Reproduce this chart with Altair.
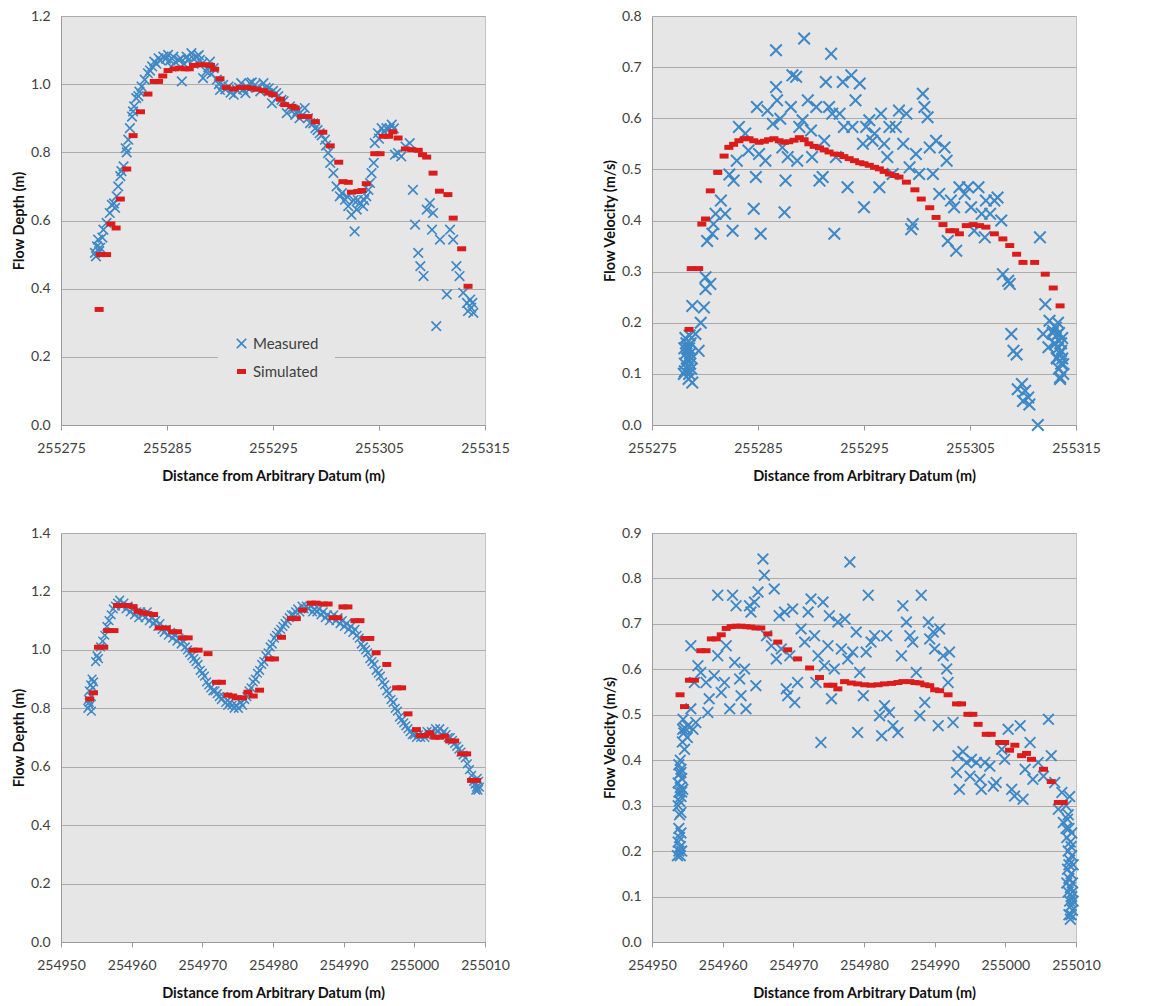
import altair as alt
import pandas as pd

# ---------------------------------------------------------------- data
BASE_TOP = 255200      # top panels: distances stored as offsets from this datum
BASE_BOTTOM = 254900   # bottom panels: distances stored as offsets from this datum
SERIES = ["Measured", "Simulated"]

top_x_ticks = [255275, 255285, 255295, 255305, 255315]
bottom_x_ticks = [254950, 254960, 254970, 254980, 254990, 255000, 255010]
top_depth_ticks = [0.0, 0.2, 0.4, 0.6, 0.8, 1.0, 1.2]
top_velocity_ticks = [0.0, 0.1, 0.2, 0.3, 0.4, 0.5, 0.6, 0.7, 0.8]
bottom_depth_ticks = [0.0, 0.2, 0.4, 0.6, 0.8, 1.0, 1.2, 1.4]
bottom_velocity_ticks = [0.0, 0.1, 0.2, 0.3, 0.4, 0.5, 0.6, 0.7, 0.8, 0.9]

top_depth_measured = [
    (78.2, 0.505), (78.3, 0.495), (78.4, 0.524), (78.5, 0.544), (78.6, 0.51), (78.7, 0.52),
    (78.9, 0.55), (79.0, 0.573), (79.3, 0.593), (79.6, 0.622), (79.8, 0.646), (80.0, 0.65),
    (80.1, 0.637), (80.25, 0.671), (80.4, 0.70), (80.6, 0.73), (80.7, 0.745), (80.9, 0.759),
    (81.1, 0.812), (81.2, 0.80), (81.35, 0.837), (81.5, 0.871), (81.7, 0.905), (81.8, 0.92),
    (81.9, 0.935), (82.1, 0.959), (82.3, 0.965), (82.4, 0.978), (82.6, 0.993), (82.9, 1.013),
    (83.2, 1.032), (83.4, 1.04), (83.6, 1.052), (83.8, 1.066), (84.0, 1.06), (84.2, 1.076),
    (84.4, 1.07), (84.65, 1.081), (84.9, 1.075), (85.1, 1.086), (85.3, 1.07), (85.4, 1.052),
    (85.6, 1.081), (85.8, 1.065), (86.1, 1.071), (86.3, 1.075), (86.4, 1.008), (86.6, 1.06),
    (86.85, 1.081), (87.0, 1.07), (87.3, 1.091), (87.5, 1.075), (87.8, 1.081), (88.0, 1.085),
    (88.1, 1.071), (88.3, 1.06), (88.4, 1.018), (88.7, 1.037), (88.9, 1.05), (89.05, 1.066),
    (89.2, 1.03), (89.4, 1.047), (89.7, 1.013), (89.9, 1.0), (90.0, 0.983), (90.3, 0.998),
    (90.5, 0.985), (90.8, 0.993), (91.0, 0.975), (91.3, 0.969), (91.6, 0.983), (91.8, 0.99),
    (92.0, 1.003), (92.2, 0.985), (92.4, 0.974), (92.6, 0.99), (92.8, 1.003), (93.0, 1.005),
    (93.3, 0.998), (93.5, 0.99), (93.8, 0.979), (94.1, 1.003), (94.3, 0.99), (94.6, 0.988),
    (94.9, 0.944), (95.0, 0.98), (95.3, 0.974), (95.5, 0.965), (95.8, 0.954), (96.0, 0.95),
    (96.3, 0.915), (96.6, 0.935), (96.9, 0.925), (97.1, 0.910), (97.3, 0.92), (97.5, 0.90),
    (97.8, 0.91), (98.0, 0.93), (98.3, 0.90), (98.5, 0.886), (98.8, 0.885), (99.0, 0.871),
    (99.2, 0.865), (99.4, 0.856), (99.6, 0.85), (99.9, 0.837), (100.0, 0.82), (100.2, 0.798),
    (100.4, 0.769), (100.7, 0.739), (101.0, 0.70), (101.3, 0.671), (101.5, 0.68), (101.8, 0.661),
    (102.0, 0.67), (102.1, 0.642), (102.4, 0.617), (102.6, 0.66), (102.7, 0.568), (102.9, 0.632),
    (103.0, 0.66), (103.2, 0.651), (103.5, 0.642), (103.6, 0.66), (103.8, 0.671), (104.0, 0.69),
    (104.15, 0.71), (104.3, 0.739), (104.5, 0.769), (104.6, 0.827), (104.9, 0.856), (105.0, 0.84),
    (105.25, 0.871), (105.5, 0.86), (105.7, 0.871), (106.0, 0.87), (106.2, 0.881), (106.4, 0.87),
    (106.5, 0.793), (106.8, 0.798), (107.1, 0.788), (107.5, 0.817), (107.9, 0.827), (108.2, 0.69),
    (108.4, 0.588), (108.7, 0.505), (108.9, 0.466), (109.2, 0.437), (109.5, 0.632), (109.8, 0.651),
    (110.0, 0.573), (110.1, 0.622), (110.4, 0.29), (110.75, 0.544), (111.4, 0.383), (111.7, 0.573),
    (112.0, 0.544), (112.3, 0.466), (112.6, 0.437), (112.95, 0.388), (113.3, 0.358), (113.4, 0.334),
    (113.6, 0.368), (113.7, 0.344), (113.8, 0.358), (113.9, 0.329),
]
top_depth_simulated = [
    (78.6, 0.339), (78.7, 0.50), (79.3, 0.50), (79.7, 0.59), (80.2, 0.578), (80.6, 0.663),
    (81.2, 0.751), (81.8, 0.849), (82.5, 0.919), (83.2, 0.971), (83.8, 1.008), (84.2, 1.008),
    (84.6, 1.024), (85.1, 1.040), (85.75, 1.045), (86.2, 1.047), (86.7, 1.045), (87.1, 1.045),
    (87.5, 1.055), (88.1, 1.057), (88.6, 1.057), (89.1, 1.055), (89.5, 1.044), (90.0, 1.016),
    (90.6, 0.99), (91.3, 0.986), (91.9, 0.99), (92.5, 0.99), (93.0, 0.988), (93.5, 0.985),
    (94.1, 0.981), (94.6, 0.974), (95.0, 0.969), (95.7, 0.956), (96.1, 0.94), (96.8, 0.935),
    (97.1, 0.93), (97.7, 0.905), (98.3, 0.905), (99.0, 0.89), (99.7, 0.859), (100.4, 0.819),
    (101.2, 0.771), (101.6, 0.714), (102.1, 0.712), (102.4, 0.683), (103.0, 0.685), (103.4, 0.688),
    (103.8, 0.708), (104.6, 0.796), (105.1, 0.796), (105.4, 0.847), (105.9, 0.847), (106.3, 0.86),
    (106.8, 0.842), (107.5, 0.81), (108.1, 0.808), (108.7, 0.806), (109.1, 0.793), (109.5, 0.786),
    (110.1, 0.739), (110.7, 0.686), (111.5, 0.676), (112.0, 0.607), (112.8, 0.517), (113.4, 0.407),
]

top_velocity_measured = [
    (78.0, 0.10), (78.05, 0.15), (78.1, 0.12), (78.15, 0.17), (78.2, 0.14), (78.25, 0.16),
    (78.3, 0.11), (78.35, 0.15), (78.4, 0.13), (78.45, 0.09), (78.5, 0.15), (78.5, 0.10),
    (78.55, 0.175), (78.6, 0.12), (78.6, 0.14), (78.65, 0.16), (78.7, 0.11), (78.75, 0.13),
    (78.8, 0.083), (78.8, 0.233), (78.3, 0.13), (78.1, 0.105),
    (79.1, 0.178), (79.4, 0.145), (79.6, 0.20), (79.9, 0.23), (80.05, 0.266), (80.05, 0.289),
    (80.5, 0.276), (80.2, 0.36), (80.7, 0.374), (81.0, 0.413), (80.8, 0.393), (81.5, 0.439),
    (81.9, 0.413), (82.6, 0.38), (82.3, 0.49), (82.7, 0.478), (83.0, 0.517), (83.2, 0.583),
    (83.8, 0.57), (84.1, 0.537), (84.6, 0.423), (84.8, 0.485), (84.9, 0.622), (85.1, 0.53),
    (85.25, 0.374), (85.7, 0.517), (85.9, 0.615), (86.4, 0.589), (86.7, 0.733), (86.7, 0.661),
    (86.8, 0.635), (87.1, 0.599), (87.3, 0.543), (87.5, 0.416), (87.6, 0.478), (87.8, 0.524),
    (88.1, 0.622), (88.25, 0.684), (88.6, 0.681), (88.7, 0.517), (88.9, 0.583), (89.2, 0.596),
    (89.35, 0.756), (89.7, 0.635), (90.0, 0.576), (90.1, 0.524), (90.5, 0.622), (90.8, 0.478),
    (91.1, 0.485), (91.25, 0.556), (91.4, 0.671), (91.7, 0.622), (91.9, 0.726), (92.0, 0.609),
    (92.2, 0.374), (92.35, 0.524), (92.7, 0.609), (93.0, 0.671), (93.1, 0.583), (93.45, 0.465),
    (93.8, 0.684), (93.9, 0.583), (94.2, 0.635), (94.6, 0.668), (94.9, 0.55), (95.0, 0.426),
    (95.2, 0.583), (95.5, 0.596), (95.8, 0.556), (96.0, 0.57), (96.45, 0.465), (96.6, 0.609),
    (96.9, 0.55), (97.2, 0.524), (97.4, 0.583), (97.7, 0.491), (98.0, 0.583), (98.3, 0.615),
    (98.7, 0.55), (99.0, 0.609), (99.3, 0.504), (99.45, 0.383), (99.6, 0.393), (99.9, 0.53),
    (100.2, 0.491), (100.55, 0.648), (100.7, 0.622), (101.0, 0.602), (101.2, 0.543), (101.5, 0.491),
    (101.8, 0.556), (102.1, 0.452), (102.6, 0.543), (102.8, 0.517), (102.9, 0.36), (103.2, 0.439),
    (103.5, 0.426), (103.7, 0.341), (104.0, 0.465), (104.5, 0.452), (104.8, 0.465), (105.1, 0.426),
    (105.4, 0.38), (105.8, 0.465), (106.1, 0.413), (106.4, 0.367), (106.5, 0.439), (106.9, 0.413),
    (107.3, 0.439), (107.6, 0.445), (107.95, 0.40), (108.1, 0.295), (108.6, 0.282), (108.75, 0.276),
    (108.9, 0.178), (109.1, 0.145), (109.4, 0.138), (109.5, 0.07), (109.9, 0.08), (110.0, 0.047),
    (110.2, 0.067), (110.5, 0.054), (110.6, 0.04), (111.4, 0.0), (111.6, 0.367), (111.9, 0.178),
    (112.1, 0.236), (112.4, 0.152), (112.5, 0.204), (112.85, 0.184), (113.0, 0.158), (113.2, 0.132),
    (113.3, 0.178), (113.5, 0.093), (113.6, 0.145), (113.8, 0.119),
    (112.8, 0.18), (113.0, 0.16), (113.1, 0.19), (113.2, 0.13), (113.3, 0.15), (113.4, 0.11),
    (113.5, 0.14), (113.6, 0.12), (113.7, 0.17), (113.8, 0.10), (113.5, 0.09), (113.3, 0.20),
    (113.6, 0.16), (113.4, 0.18), (113.7, 0.13),
]
top_velocity_simulated = [
    (78.5, 0.187), (78.7, 0.306), (79.4, 0.306), (79.7, 0.393), (80.05, 0.403), (80.5, 0.458),
    (81.2, 0.494), (81.8, 0.526), (82.25, 0.543), (82.7, 0.549), (83.2, 0.556), (83.7, 0.56),
    (84.15, 0.56), (84.6, 0.556), (85.1, 0.553), (85.6, 0.555), (86.0, 0.558), (86.5, 0.56),
    (87.0, 0.556), (87.5, 0.553), (87.9, 0.554), (88.4, 0.557), (88.9, 0.562), (89.35, 0.558),
    (89.8, 0.55), (90.3, 0.545), (90.8, 0.542), (91.25, 0.538), (91.7, 0.534), (92.2, 0.53),
    (92.7, 0.529), (93.1, 0.525), (93.6, 0.521), (94.1, 0.517), (94.6, 0.513), (95.0, 0.511),
    (95.5, 0.508), (96.0, 0.504), (96.45, 0.501), (96.9, 0.496), (97.4, 0.491), (97.9, 0.488),
    (98.3, 0.485), (99.0, 0.475), (99.8, 0.46), (100.4, 0.442), (101.2, 0.425), (101.8, 0.406),
    (102.45, 0.392), (103.1, 0.38), (103.55, 0.38), (104.0, 0.374), (104.65, 0.39), (105.3, 0.392),
    (105.9, 0.39), (106.5, 0.387), (107.3, 0.374), (108.1, 0.364), (108.75, 0.351), (109.4, 0.334),
    (110.0, 0.318), (111.1, 0.318), (112.1, 0.295), (112.85, 0.268), (113.5, 0.233),
]

bottom_depth_measured = [
    (53.8, 0.80), (53.9, 0.83), (54.0, 0.86), (54.1, 0.81), (54.2, 0.88), (54.3, 0.84),
    (54.4, 0.90), (54.5, 0.87), (54.6, 0.89), (54.3, 0.79), (54.0, 0.82),
    (54.9, 0.96), (55.1, 0.98), (55.3, 0.97), (55.6, 1.01), (55.9, 1.03), (56.2, 1.05),
    (56.5, 1.08), (56.8, 1.10), (57.1, 1.12), (57.4, 1.14), (57.7, 1.15), (58.0, 1.16),
    (58.3, 1.17), (58.6, 1.15), (58.9, 1.16), (59.2, 1.14), (59.5, 1.15), (59.8, 1.13),
    (60.1, 1.14), (60.4, 1.12), (60.7, 1.13), (61.0, 1.11), (61.3, 1.13), (61.6, 1.12),
    (61.9, 1.11), (62.2, 1.13), (62.5, 1.10), (62.8, 1.11), (63.1, 1.09), (63.4, 1.10),
    (63.7, 1.08), (64.0, 1.09), (64.3, 1.07), (64.6, 1.06), (64.9, 1.07), (65.2, 1.05),
    (65.5, 1.06), (65.8, 1.04), (66.1, 1.05), (66.4, 1.03), (66.7, 1.04), (67.0, 1.02),
    (67.3, 1.03), (67.6, 1.01), (67.9, 1.00), (68.2, 0.99), (68.5, 0.98), (68.8, 0.97),
    (69.1, 0.96), (69.4, 0.95), (69.7, 0.93), (70.0, 0.92), (70.3, 0.91), (70.6, 0.89),
    (70.9, 0.88), (71.2, 0.87), (71.5, 0.86), (71.8, 0.86), (72.1, 0.85), (72.4, 0.84),
    (72.7, 0.83), (73.0, 0.84), (73.3, 0.82), (73.6, 0.81), (73.9, 0.82), (74.2, 0.81),
    (74.5, 0.80), (74.8, 0.81), (75.1, 0.80), (75.4, 0.82), (75.7, 0.81), (76.0, 0.83),
    (76.3, 0.84), (76.6, 0.86), (76.9, 0.87), (77.2, 0.89), (77.5, 0.90), (77.8, 0.92),
    (78.1, 0.93), (78.4, 0.95), (78.7, 0.96), (79.0, 0.98), (79.3, 0.99), (79.6, 1.01),
    (79.9, 1.02), (80.2, 1.04), (80.5, 1.05), (80.8, 1.06), (81.1, 1.07), (81.4, 1.08),
    (81.7, 1.09), (82.0, 1.10), (82.3, 1.11), (82.6, 1.12), (82.9, 1.12), (83.2, 1.13),
    (83.5, 1.14), (83.8, 1.13), (84.1, 1.15), (84.4, 1.14), (84.7, 1.15), (85.0, 1.14),
    (85.3, 1.15), (85.6, 1.13), (85.9, 1.14), (86.2, 1.13), (86.5, 1.14), (86.8, 1.12),
    (87.1, 1.13), (87.4, 1.11), (87.7, 1.12), (88.0, 1.10), (88.3, 1.11), (88.6, 1.12),
    (88.9, 1.10), (89.2, 1.11), (89.5, 1.09), (89.8, 1.10), (90.1, 1.08), (90.4, 1.09),
    (90.7, 1.07), (91.0, 1.08), (91.3, 1.06), (91.6, 1.07), (91.9, 1.05), (92.2, 1.04),
    (92.5, 1.02), (92.8, 1.01), (93.1, 1.00), (93.4, 0.99), (93.7, 0.97), (94.0, 0.96),
    (94.3, 0.95), (94.6, 0.93), (94.9, 0.92), (95.2, 0.91), (95.5, 0.89), (95.8, 0.88),
    (96.1, 0.86), (96.4, 0.85), (96.7, 0.83), (97.0, 0.82), (97.3, 0.80), (97.6, 0.79),
    (97.9, 0.77), (98.2, 0.76), (98.5, 0.75), (98.8, 0.74), (99.1, 0.73), (99.4, 0.72),
    (99.7, 0.71), (100.0, 0.71), (100.3, 0.70), (100.6, 0.71), (100.9, 0.70), (101.2, 0.71),
    (101.5, 0.70), (101.8, 0.72), (102.1, 0.71), (102.4, 0.72), (102.7, 0.71), (103.0, 0.73),
    (103.3, 0.72), (103.6, 0.73), (103.9, 0.71), (104.2, 0.72), (104.5, 0.71), (104.8, 0.70),
    (105.1, 0.70), (105.4, 0.69), (105.7, 0.68), (106.0, 0.67), (106.3, 0.66), (106.6, 0.65),
    (106.9, 0.64), (107.2, 0.63), (107.5, 0.61), (107.8, 0.59), (108.1, 0.57), (108.4, 0.55),
    (108.6, 0.54), (108.8, 0.53), (109.0, 0.52), (109.1, 0.55), (108.9, 0.56), (109.2, 0.53),
    (108.7, 0.52),
]
bottom_depth_simulated = [
    (54.06, 0.832), (54.6, 0.853), (55.3, 1.009), (56.05, 1.009), (56.6, 1.066), (57.5, 1.066),
    (58.0, 1.152), (58.7, 1.152), (59.5, 1.152), (60.2, 1.148), (60.9, 1.132), (61.6, 1.127),
    (62.3, 1.124), (63.1, 1.121), (63.9, 1.075), (64.9, 1.075), (65.8, 1.062), (66.5, 1.062),
    (67.2, 1.041), (68.0, 1.041), (68.7, 0.999), (69.4, 0.999), (70.8, 0.987), (72.0, 0.889),
    (72.7, 0.889), (73.6, 0.845), (74.3, 0.842), (74.8, 0.836), (75.7, 0.836), (76.45, 0.855),
    (77.2, 0.842), (78.1, 0.862), (79.5, 0.969), (80.2, 0.969), (81.2, 1.043), (82.6, 1.107),
    (83.3, 1.107), (84.2, 1.136), (85.4, 1.16), (86.1, 1.16), (87.1, 1.157), (87.8, 1.157),
    (88.5, 1.11), (89.2, 1.11), (89.9, 1.147), (90.6, 1.147), (91.6, 1.10), (92.3, 1.10),
    (93.0, 1.039), (93.7, 1.039), (94.6, 0.99), (96.1, 0.95), (97.5, 0.87), (98.2, 0.87),
    (99.1, 0.781), (100.3, 0.727), (100.8, 0.707), (101.5, 0.707), (102.2, 0.716), (102.9, 0.701),
    (103.6, 0.701), (104.3, 0.705), (105.0, 0.688), (105.7, 0.688), (106.7, 0.644), (107.4, 0.644),
    (108.1, 0.553), (108.8, 0.553),
]

bottom_velocity_measured = [
    (53.6, 0.19), (53.8, 0.20), (54.0, 0.21), (53.7, 0.22), (53.9, 0.23), (54.1, 0.24),
    (53.8, 0.25), (54.2, 0.20), (54.0, 0.19), (53.7, 0.30), (53.9, 0.31), (54.1, 0.32),
    (53.8, 0.33), (54.0, 0.34), (53.7, 0.35), (54.2, 0.36), (53.9, 0.37), (54.1, 0.38),
    (53.8, 0.39), (54.0, 0.40), (54.2, 0.33), (53.9, 0.28), (54.3, 0.44), (54.5, 0.46),
    (54.4, 0.49), (54.7, 0.47), (55.0, 0.45),
    (54.1, 0.285), (54.35, 0.336), (54.1, 0.373), (54.6, 0.424), (54.35, 0.468), (55.05, 0.476),
    (55.5, 0.513), (55.8, 0.468), (56.2, 0.483), (56.0, 0.571), (55.5, 0.652), (56.5, 0.608),
    (56.9, 0.593), (57.65, 0.571), (57.9, 0.505), (58.1, 0.535), (58.8, 0.586), (59.3, 0.763),
    (59.3, 0.63), (59.8, 0.549), (60.25, 0.571), (60.5, 0.652), (61.0, 0.513), (61.4, 0.763),
    (61.7, 0.615), (61.9, 0.74), (62.4, 0.579), (62.6, 0.542), (63.1, 0.601), (63.3, 0.513),
    (63.8, 0.74), (64.0, 0.726), (64.5, 0.748), (64.7, 0.564), (65.0, 0.77), (65.7, 0.843),
    (65.9, 0.807), (66.2, 0.674), (66.9, 0.652), (67.3, 0.777), (67.6, 0.623), (68.0, 0.718),
    (68.3, 0.645), (68.75, 0.726), (69.0, 0.557), (69.2, 0.542), (69.5, 0.63), (69.9, 0.733),
    (70.2, 0.527), (70.6, 0.571), (71.1, 0.689), (71.6, 0.66), (72.1, 0.726), (72.5, 0.755),
    (73.0, 0.674), (73.2, 0.571), (73.5, 0.63), (73.9, 0.439), (74.2, 0.748), (74.4, 0.608),
    (74.9, 0.652), (75.1, 0.718), (75.4, 0.535), (75.8, 0.601), (76.3, 0.704), (76.8, 0.645),
    (77.3, 0.711), (77.7, 0.623), (78.0, 0.836), (78.4, 0.638), (78.9, 0.682), (79.1, 0.461),
    (79.4, 0.593), (79.9, 0.542), (80.3, 0.638), (80.6, 0.763), (81.0, 0.66), (81.5, 0.674),
    (82.2, 0.498), (82.5, 0.454), (82.9, 0.52), (83.2, 0.674), (83.6, 0.505), (84.1, 0.476),
    (84.8, 0.461), (85.3, 0.63), (85.5, 0.74), (86.0, 0.704), (86.5, 0.674), (86.9, 0.66),
    (87.4, 0.593), (87.9, 0.498), (88.1, 0.763), (88.6, 0.527), (89.1, 0.704), (89.3, 0.667),
    (89.8, 0.682), (90.0, 0.645), (90.5, 0.476), (90.7, 0.689), (91.2, 0.63), (91.7, 0.601),
    (91.9, 0.571), (92.1, 0.638), (92.6, 0.483), (93.1, 0.373), (93.3, 0.41), (93.5, 0.336),
    (94.0, 0.419), (94.5, 0.395), (95.0, 0.365), (95.2, 0.402), (95.9, 0.395), (96.4, 0.358),
    (96.6, 0.336), (97.1, 0.395), (97.8, 0.387), (98.3, 0.343), (98.7, 0.351), (99.5, 0.424),
    (99.9, 0.402), (100.4, 0.468), (100.9, 0.336), (101.3, 0.321), (102.1, 0.476), (102.5, 0.314),
    (102.8, 0.38), (103.5, 0.439), (103.9, 0.358), (104.65, 0.395), (105.4, 0.365), (106.1, 0.49),
    (106.5, 0.41), (107.0, 0.351), (107.5, 0.292), (108.0, 0.329), (108.2, 0.263),
    (108.6, 0.30), (108.8, 0.27), (109.0, 0.25), (108.7, 0.23), (109.2, 0.22), (108.9, 0.20),
    (109.4, 0.19), (109.1, 0.18), (108.8, 0.16), (109.3, 0.15), (109.0, 0.14), (109.5, 0.13),
    (109.2, 0.12), (108.9, 0.11), (109.4, 0.10), (109.1, 0.09), (109.3, 0.08), (109.5, 0.07),
    (109.0, 0.06), (109.2, 0.05), (109.4, 0.24), (109.6, 0.17), (108.7, 0.13), (109.6, 0.09),
    (109.3, 0.21), (108.9, 0.28), (109.1, 0.32), (108.6, 0.25), (109.5, 0.11), (109.0, 0.17),
    (109.3, 0.06),
]
bottom_velocity_simulated = [
    (53.97, 0.544), (54.6, 0.518), (55.3, 0.576), (56.0, 0.576), (56.9, 0.641), (57.65, 0.641),
    (58.4, 0.667), (59.1, 0.667), (59.8, 0.676), (60.5, 0.69), (61.2, 0.694), (61.9, 0.695),
    (62.6, 0.695), (63.3, 0.694), (64.0, 0.693), (64.7, 0.691), (65.4, 0.691), (66.4, 0.678),
    (67.8, 0.66), (69.2, 0.643), (70.6, 0.623), (72.3, 0.603), (73.7, 0.582), (74.9, 0.565),
    (75.6, 0.565), (76.3, 0.557), (77.25, 0.573), (78.2, 0.57), (79.1, 0.568), (80.1, 0.566),
    (81.0, 0.565), (82.0, 0.566), (82.9, 0.568), (83.9, 0.569), (84.8, 0.571), (85.5, 0.573),
    (86.5, 0.573), (87.2, 0.571), (87.9, 0.57), (88.6, 0.566), (89.3, 0.564), (90.0, 0.555),
    (90.7, 0.553), (91.9, 0.544), (93.1, 0.524), (93.8, 0.524), (94.7, 0.501), (95.4, 0.501),
    (96.15, 0.479), (97.3, 0.457), (98.0, 0.457), (99.2, 0.439), (99.9, 0.439), (100.6, 0.422),
    (101.35, 0.433), (102.3, 0.41), (103.0, 0.415), (103.7, 0.402), (105.4, 0.38), (106.5, 0.353),
    (107.5, 0.307), (108.2, 0.307),
]

# ---------------------------------------------------------------- style
FONT = "Lato"
BG = "#e6e6e6"
BLUE = "#3e88c6"
RED = "#dc1c1c"
GRID = "#ababab"
X_PATH = ("M-1,-0.78L-0.78,-1L0,-0.22L0.78,-1L1,-0.78L0.22,0L1,0.78L0.78,1"
          "L0,0.22L-0.78,1L-1,0.78L-0.22,0Z")
RECT_PATH = "M-1,-0.55L1,-0.55L1,0.55L-1,0.55Z"


def panel(measured, simulated, base, x_ticks, y_ticks, y_title, cross_size, legend):
    rows = [{"distance": base + d, "value": v, "series": "Measured"} for d, v in measured]
    rows += [{"distance": base + d, "value": v, "series": "Simulated"} for d, v in simulated]
    df = pd.DataFrame(rows)
    return alt.Chart(df).mark_point(filled=True, opacity=1, strokeWidth=0).encode(
        x=alt.X("distance:Q",
                scale=alt.Scale(domain=[x_ticks[0], x_ticks[-1]], nice=False, zero=False),
                axis=alt.Axis(values=x_ticks, format="d", grid=False, labelFlush=False,
                              labelOverlap=False, title="Distance from Arbitrary Datum (m)")),
        y=alt.Y("value:Q",
                scale=alt.Scale(domain=[y_ticks[0], y_ticks[-1]], nice=False, zero=True),
                axis=alt.Axis(values=y_ticks, format=".1f", grid=True, ticks=False,
                              labelOverlap=False, title=y_title)),
        color=alt.Color("series:N", scale=alt.Scale(domain=SERIES, range=[BLUE, RED]),
                        legend=legend, title=None),
        shape=alt.Shape("series:N", scale=alt.Scale(domain=SERIES, range=[X_PATH, RECT_PATH]),
                        legend=legend, title=None),
        size=alt.Size("series:N", scale=alt.Scale(domain=SERIES, range=[cross_size, 81]),
                      legend=legend, title=None),
    ).properties(width=424, height=409)


legend1 = alt.Legend(orient="none", legendX=157, legendY=304, fillColor=BG, padding=16,
                     labelFont=FONT, labelFontSize=15, labelColor="#404040",
                     rowPadding=12, labelOffset=4, symbolStrokeWidth=0)

p1 = panel(top_depth_measured, top_depth_simulated, BASE_TOP, top_x_ticks,
           top_depth_ticks, "Flow Depth (m)", 115, legend1)
p2 = panel(top_velocity_measured, top_velocity_simulated, BASE_TOP, top_x_ticks,
           top_velocity_ticks, "Flow Velocity (m/s)", 169, None)
p3 = panel(bottom_depth_measured, bottom_depth_simulated, BASE_BOTTOM, bottom_x_ticks,
           bottom_depth_ticks, "Flow Depth (m)", 95, None)
p4 = panel(bottom_velocity_measured, bottom_velocity_simulated, BASE_BOTTOM, bottom_x_ticks,
           bottom_velocity_ticks, "Flow Velocity (m/s)", 144, None)

chart = alt.concat(
    p1, p2, p3, p4, columns=2, spacing={"row": 108, "column": 167}, bounds="flush",
    padding={"left": 2, "top": 0, "right": 0, "bottom": 0}
).resolve_scale(
    x="independent", y="independent", color="independent", shape="independent", size="independent"
).resolve_legend(
    color="independent", shape="independent", size="independent"
).configure_view(
    fill=BG, stroke="#c4c4c4", strokeWidth=1
).configure_axis(
    labelFont=FONT, labelFontSize=14, labelColor="#404040",
    titleFont=FONT, titleFontWeight="bold", titleColor="#111111",
    domainColor="#9a9a9a", tickColor="#9a9a9a", gridColor=GRID, gridWidth=1.2
).configure_axisX(
    tickSize=5, labelPadding=11, titlePadding=14, titleFontSize=14.5
).configure_axisY(
    tickSize=0, labelPadding=11, titlePadding=4, titleFontSize=14.5
)

chart.save("out.html", embed_options={"renderer": "svg", "actions": False})
